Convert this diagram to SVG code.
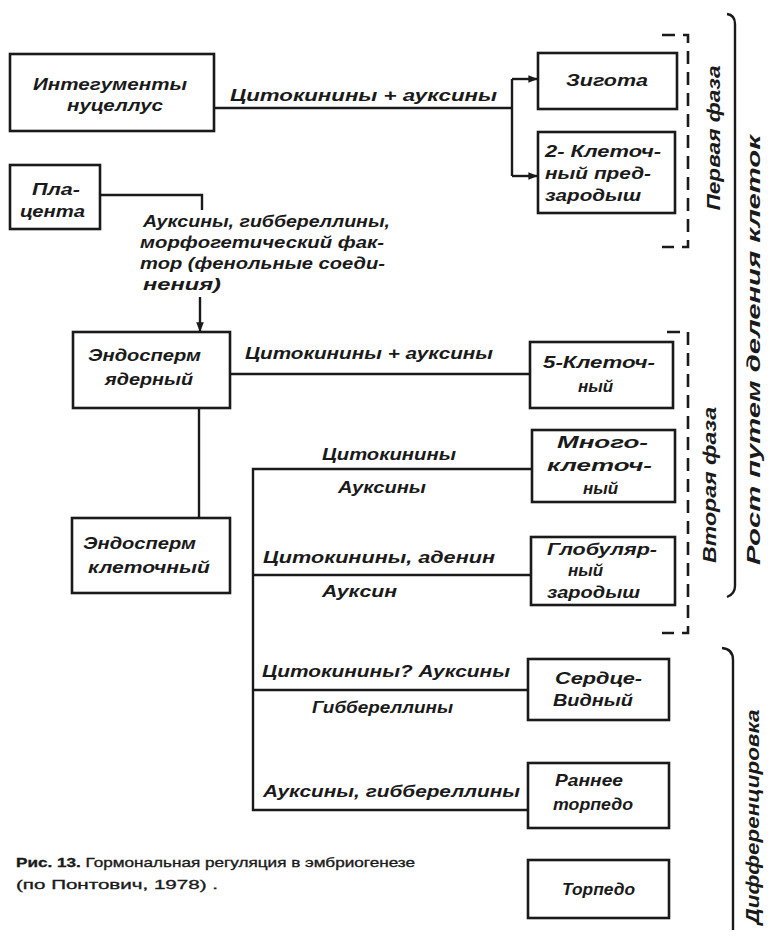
<svg xmlns="http://www.w3.org/2000/svg" width="770" height="936" viewBox="0 0 770 936">
<defs>
<style>
.bx{fill:none;stroke:#1a1a1a;stroke-width:2.6}
.ln{fill:none;stroke:#1a1a1a;stroke-width:2.4}
.ds{fill:none;stroke:#1a1a1a;stroke-width:2.6;stroke-dasharray:13 8}
.t{font-family:"Liberation Sans",Arial,sans-serif;font-style:italic;font-weight:bold;font-size:17px;fill:#1a1a1a}
.s{font-size:19px}
.c{text-anchor:middle}
.cap{font-family:"Liberation Sans",Arial,sans-serif;font-size:13.5px;fill:#1a1a1a;stroke:#1a1a1a;stroke-width:0.35}
</style>
<marker id="ar" viewBox="0 0 10 10" refX="9" refY="5" markerWidth="4" markerHeight="4" orient="auto" markerUnits="strokeWidth">
<path d="M0,1 L10,5 L0,9 Z" fill="#1a1a1a"/>
</marker>
</defs>
<rect width="770" height="936" fill="#ffffff"/>

<g id="connectors">
<path class="ln" d="M214,108 H512"/>
<path class="ln" d="M512,79 V176"/>
<path class="ln" d="M512,79 H537" marker-end="url(#ar)"/>
<path class="ln" d="M512,176 H537" marker-end="url(#ar)"/>
<path class="ln" d="M100,195 H202 V210"/>
<path class="ln" d="M200,297 V331" marker-end="url(#ar)"/>
<path class="ln" d="M230,374 H530"/>
<path class="ln" d="M199,408 V518"/>
<path class="ln" d="M532,469 H253 V810 H528"/>
<path class="ln" d="M253,575 H531"/>
<path class="ln" d="M253,690 H528"/>
<path class="ds" d="M662,35 H688 V247 H662"/>
<path class="ds" d="M667,332 H688 V633 H662"/>
<path class="ln" d="M727,14 Q735,15 735,24 V586 Q735,594 727,597"/>
<path class="ln" d="M722,648 Q733,649 733,660 V930"/>
</g>

<g id="edge-labels">
<text class="t" x="230" y="101" textLength="267" lengthAdjust="spacingAndGlyphs">Цитокинины + ауксины</text>
<text class="t" x="143" y="227" textLength="247" lengthAdjust="spacingAndGlyphs">Ауксины, гиббереллины,</text>
<text class="t" x="140" y="248" textLength="244" lengthAdjust="spacingAndGlyphs">морфогетический фак-</text>
<text class="t" x="140" y="269" textLength="245" lengthAdjust="spacingAndGlyphs">тор (фенольные соеди-</text>
<text class="t" x="143" y="290" textLength="78" lengthAdjust="spacingAndGlyphs">нения)</text>
<text class="t" x="245" y="359" textLength="248" lengthAdjust="spacingAndGlyphs">Цитокинины + ауксины</text>
<text class="t" x="322" y="460" textLength="134" lengthAdjust="spacingAndGlyphs">Цитокинины</text>
<text class="t" x="338" y="493" textLength="88" lengthAdjust="spacingAndGlyphs">Ауксины</text>
<text class="t" x="263" y="563" textLength="232" lengthAdjust="spacingAndGlyphs">Цитокинины, аденин</text>
<text class="t" x="322" y="597" textLength="75" lengthAdjust="spacingAndGlyphs">Ауксин</text>
<text class="t" x="262" y="677" textLength="248" lengthAdjust="spacingAndGlyphs">Цитокинины? Ауксины</text>
<text class="t" x="312" y="713" textLength="141" lengthAdjust="spacingAndGlyphs">Гиббереллины</text>
<text class="t" x="263" y="797" textLength="257" lengthAdjust="spacingAndGlyphs">Ауксины, гиббереллины</text>
</g>

<g id="n1"><rect class="bx" x="10" y="54" width="204" height="77"/>
<text class="t" x="33" y="90" textLength="154" lengthAdjust="spacingAndGlyphs">Интегументы</text>
<text class="t" x="67" y="111" textLength="96" lengthAdjust="spacingAndGlyphs">нуцеллус</text></g>
<g id="n2"><rect class="bx" x="538" y="53" width="139" height="56"/>
<text class="t" x="566" y="86" textLength="82" lengthAdjust="spacingAndGlyphs">Зигота</text></g>
<g id="n3"><rect class="bx" x="538" y="132" width="137" height="81"/>
<text class="t" x="545" y="157" textLength="116" lengthAdjust="spacingAndGlyphs">2- Клеточ-</text>
<text class="t" x="545" y="179" textLength="106" lengthAdjust="spacingAndGlyphs">ный пред-</text>
<text class="t" x="545" y="201" textLength="96" lengthAdjust="spacingAndGlyphs">зародыш</text></g>
<g id="n4"><rect class="bx" x="10" y="165" width="90" height="64"/>
<text class="t" x="32" y="195" textLength="48" lengthAdjust="spacingAndGlyphs">Пла-</text>
<text class="t" x="20" y="217" textLength="65" lengthAdjust="spacingAndGlyphs">цента</text></g>
<g id="n5"><rect class="bx" x="73" y="332" width="157" height="76"/>
<text class="t" x="88" y="361" textLength="113" lengthAdjust="spacingAndGlyphs">Эндосперм</text>
<text class="t" x="105" y="385" textLength="88" lengthAdjust="spacingAndGlyphs">ядерный</text></g>
<g id="n6"><rect class="bx" x="530" y="342" width="143" height="66"/>
<text class="t" x="543" y="368" textLength="112" lengthAdjust="spacingAndGlyphs">5-Клеточ-</text>
<text class="t" x="578" y="392">ный</text></g>
<g id="n7"><rect class="bx" x="532" y="430" width="143" height="72"/>
<text class="t" x="557" y="448" textLength="91" lengthAdjust="spacingAndGlyphs">Много-</text>
<text class="t" x="547" y="471" textLength="105" lengthAdjust="spacingAndGlyphs">клеточ-</text>
<text class="t" x="583" y="494">ный</text></g>
<g id="n8"><rect class="bx" x="72" y="518" width="158" height="75"/>
<text class="t" x="83" y="549" textLength="113" lengthAdjust="spacingAndGlyphs">Эндосперм</text>
<text class="t" x="88" y="573" textLength="122" lengthAdjust="spacingAndGlyphs">клеточный</text></g>
<g id="n9"><rect class="bx" x="531" y="537" width="144" height="68"/>
<text class="t" x="547" y="555" textLength="110" lengthAdjust="spacingAndGlyphs">Глобуляр-</text>
<text class="t" x="568" y="576">ный</text>
<text class="t" x="547" y="598" textLength="93" lengthAdjust="spacingAndGlyphs">зародыш</text></g>
<g id="n10"><rect class="bx" x="528" y="659" width="141" height="61"/>
<text class="t" x="555" y="684" textLength="87" lengthAdjust="spacingAndGlyphs">Сердце-</text>
<text class="t" x="553" y="706" textLength="80" lengthAdjust="spacingAndGlyphs">Видный</text></g>
<g id="n11"><rect class="bx" x="528" y="763" width="141" height="65"/>
<text class="t" x="555" y="786" textLength="68" lengthAdjust="spacingAndGlyphs">Раннее</text>
<text class="t" x="553" y="810" textLength="80" lengthAdjust="spacingAndGlyphs">торпедо</text></g>
<g id="n12"><rect class="bx" x="528" y="860" width="141" height="58"/>
<text class="t" x="562" y="895" textLength="73" lengthAdjust="spacingAndGlyphs">Торпедо</text></g>

<g id="side-labels">
<text class="t s c" transform="translate(720,138) rotate(-90)" textLength="145" lengthAdjust="spacingAndGlyphs">Первая фаза</text>
<text class="t s c" transform="translate(716,485) rotate(-90)" textLength="156" lengthAdjust="spacingAndGlyphs">Вторая фаза</text>
<text class="t s c" transform="translate(760,350) rotate(-90)" textLength="430" lengthAdjust="spacingAndGlyphs">Рост путем деления клеток</text>
<text class="t s c" transform="translate(759,817) rotate(-90)" textLength="215" lengthAdjust="spacingAndGlyphs">Дифференцировка</text>
</g>

<g id="caption">
<text class="cap" x="16" y="867" textLength="399" lengthAdjust="spacingAndGlyphs"><tspan font-weight="bold">Рис. 13.</tspan> Гормональная регуляция в эмбриогенезе</text>
<text class="cap" x="16" y="889" textLength="202" lengthAdjust="spacingAndGlyphs">(по Понтович, 1978) .</text>
</g>
</svg>
